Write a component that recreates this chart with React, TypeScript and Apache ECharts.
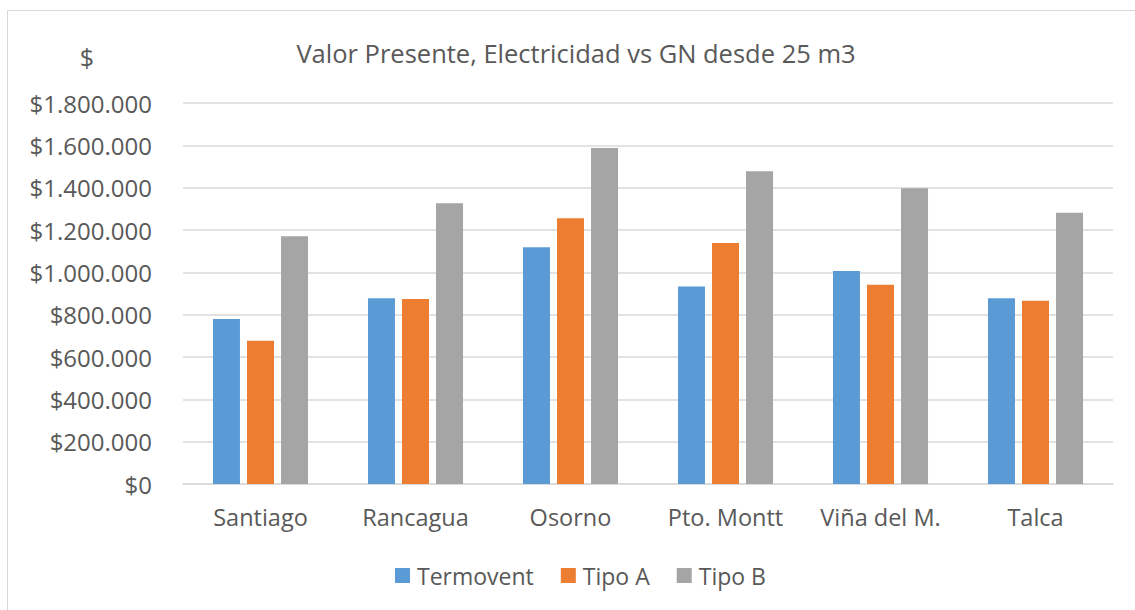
import React, { useEffect, useRef } from "react";
import * as echarts from "echarts";

const categories = ["Santiago", "Rancagua", "Osorno", "Pto. Montt", "Viña del M.", "Talca"];
const termovent = [780000, 878000, 1119000, 933000, 1006000, 877000];
const tipoA = [677000, 874000, 1256000, 1139000, 941000, 866000];
const tipoB = [1171000, 1326000, 1587000, 1477000, 1397000, 1281000];
const seriesNames = ["Termovent", "Tipo A", "Tipo B"];
const colors = ["#5B9BD5", "#ED7D31", "#A5A5A5"];
const titleText = "Valor Presente, Electricidad vs GN desde 25 m3";
const unitLabel = "$";

const FONT = "'Open Sans', 'Noto Sans', sans-serif";
const TEXT = "#595959";

function fmt(v: number): string {
  const s = Math.round(v).toString().replace(/\B(?=(\d{3})+(?!\d))/g, ".");
  return "$" + s;
}

export default function App() {
  const ref = useRef<HTMLDivElement>(null);
  useEffect(() => {
    if (!ref.current) return;
    const chart = echarts.init(ref.current, undefined, { renderer: "svg" });
    const data = [termovent, tipoA, tipoB];
    chart.setOption({
      animation: false,
      backgroundColor: "#ffffff",
      title: {
        text: titleText,
        left: 571,
        textAlign: "center",
        top: 35,
        textStyle: { fontFamily: FONT, fontSize: 25.5, fontWeight: "normal", color: TEXT },
      },
      graphic: [
        {
          type: "rect",
          shape: { x: 7.5, y: 10.5, width: 1140, height: 620 },
          style: { fill: "none", stroke: "#D9D9D9", lineWidth: 1 },
          silent: true,
        },
        {
          type: "text",
          x: 87,
          y: 57,
          style: {
            text: unitLabel,
            fontFamily: FONT,
            fontSize: 25,
            fill: TEXT,
            align: "center",
            verticalAlign: "middle",
          },
        },
      ],
      legend: {
        data: seriesNames,
        left: 390,
        top: 559,
        icon: "rect",
        itemWidth: 15,
        itemHeight: 15,
        itemGap: 27,
        textStyle: { fontFamily: FONT, fontSize: 23, color: TEXT, padding: [0, 0, 0, 2] },
      },
      grid: { left: 183, right: 22, top: 103, bottom: 126, containLabel: false },
      xAxis: {
        type: "category",
        data: categories,
        axisLine: { lineStyle: { color: "#D9D9D9", width: 1.5 } },
        axisTick: { show: false },
        axisLabel: { fontFamily: FONT, fontSize: 23.5, color: TEXT, margin: 21, interval: 0 },
      },
      yAxis: {
        type: "value",
        min: 0,
        max: 1800000,
        interval: 200000,
        axisLine: { show: false },
        axisTick: { show: false },
        splitLine: { lineStyle: { color: "#D9D9D9", width: 1.5 } },
        axisLabel: {
          fontFamily: FONT,
          fontSize: 24,
          color: TEXT,
          margin: 31,
          formatter: (v: number) => fmt(v),
        },
      },
      series: seriesNames.map((name, i) => ({
        name,
        type: "bar",
        data: data[i],
        barWidth: 27,
        barGap: "26%",
        itemStyle: { color: colors[i] },
      })),
    });
    return () => chart.dispose();
  }, []);
  return (
    <div
      ref={ref}
      style={{ position: "fixed", left: 0, top: 0, width: 1135, height: 610 }}
    />
  );
}
